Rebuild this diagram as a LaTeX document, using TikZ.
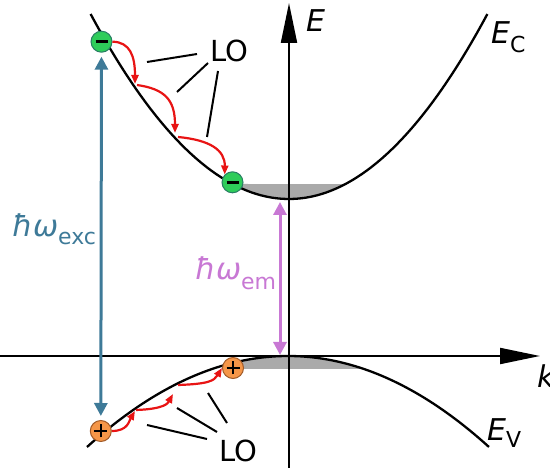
\documentclass[tikz,border=0pt]{standalone}
\usepackage{fontspec}
\setmainfont{DejaVu Sans}
\usetikzlibrary{arrows.meta}
\definecolor{egreen}{RGB}{46,204,90}
\definecolor{eborder}{RGB}{40,125,100}
\definecolor{horange}{RGB}{245,150,72}
\definecolor{hborder}{RGB}{160,90,40}
\definecolor{excblue}{RGB}{62,122,152}
\definecolor{emmag}{RGB}{200,120,212}
\definecolor{arrred}{RGB}{232,20,20}
\definecolor{bandgray}{RGB}{170,170,170}
\newcommand\FontBig{\fontsize{30}{36}\selectfont}
\newcommand\FontLO{\fontsize{29}{34}\selectfont}
\newcommand\FontSub{\fontsize{22}{26}\selectfont}
\begin{document}
\begin{tikzpicture}[x=1pt,y=-1pt,
  electron/.style={circle, fill=egreen, draw=eborder, line width=1pt, minimum size=21pt, inner sep=0pt,
    path picture={\draw[line width=3.4pt,black] ([xshift=-6pt]path picture bounding box.center) -- ([xshift=6pt]path picture bounding box.center);}},
  hole/.style={circle, fill=horange, draw=hborder, line width=1pt, minimum size=21pt, inner sep=0pt,
    path picture={\draw[line width=2.6pt,black] ([xshift=-6.5pt]path picture bounding box.center) -- ([xshift=6.5pt]path picture bounding box.center)
      ([yshift=-6.5pt]path picture bounding box.center) -- ([yshift=6.5pt]path picture bounding box.center);}},
  band/.style={line width=2.3pt, black},
  axis/.style={line width=2pt, black, -{Triangle[length=40pt,width=16pt]}},
  redarr/.style={draw=arrred, line width=2.2pt, -{Triangle[length=9pt,width=7pt]}},
  loline/.style={line width=2pt, black},
  lbl/.style={inner sep=0pt, anchor=base west},
]
\useasboundingbox (0,0) rectangle (550,468);

% filled band states
\fill[bandgray] (238,184) -- plot[domain=-0.257:0.2848, samples=30] ({289+198.4*\x},{199-185*\x*\x}) -- cycle;
\fill[bandgray] (238,369) -- plot[domain=-0.249:0.378, samples=30] ({288+201*\x},{356+91*\x*\x}) -- cycle;

% axes
\coordinate (yb) at (289,468);
\coordinate (yt) at (289,3);
\coordinate (xl) at (0,356);
\coordinate (xr) at (540,356);
\draw[axis] (yb) -- (yt);
\draw[axis] (xl) -- (xr);

% bands
\draw[band] plot[domain=-1:1, samples=80] ({289+198.4*\x},{199-185*\x*\x});
\draw[band] plot[domain=-1:1, samples=80] ({288+201*\x},{356+91*\x*\x});

% labels
\node[lbl] (E) at (306,32) {\FontBig\itshape E};
\node[lbl] (k) at (537,388) {\FontBig\itshape k};
\node[lbl] (EC) at (491,44) {\FontBig\itshape E\raisebox{-9pt}{\FontSub\upshape C}};
\node[lbl] (EV) at (487,441) {\FontBig\itshape E\raisebox{-7pt}{\FontSub\upshape V}};
\node[lbl, text=excblue] (exc) at (12,237) {\FontBig\itshape ħω\raisebox{-8pt}{\FontSub\upshape exc}};
\node[lbl, text=emmag] (em) at (195,280) {\FontBig\itshape ħω\raisebox{-10pt}{\FontSub\upshape em}};
\node[inner sep=0pt] (LOt) at (229,51) {\FontLO LO};
\node[inner sep=0pt] (LOb) at (238,451) {\FontLO LO};

% LO lines
\coordinate (t1a) at (147,62); \coordinate (t1b) at (197,54);
\coordinate (t2a) at (177,92); \coordinate (t2b) at (208,63);
\coordinate (t3a) at (207,137); \coordinate (t3b) at (218,71);
\draw[loline] (t1a) -- (t1b);
\draw[loline] (t2a) -- (t2b);
\draw[loline] (t3a) -- (t3b);
\coordinate (b1a) at (147,425); \coordinate (b1b) at (207,439);
\coordinate (b2a) at (177,408); \coordinate (b2b) at (217,432);
\coordinate (b3a) at (208,393); \coordinate (b3b) at (227,423);
\draw[loline] (b1a) -- (b1b);
\draw[loline] (b2a) -- (b2b);
\draw[loline] (b3a) -- (b3b);

% particles
\node[electron] (e1) at (101.5,41.7) {};
\node[electron] (e2) at (232.5,182.3) {};
\node[hole] (h1) at (100.8,431) {};
\node[hole] (h2) at (233,368) {};

% excitation and emission
\draw[line width=3pt, excblue, {Triangle[length=13pt,width=13pt]}-{Triangle[length=13pt,width=13pt]}, shorten <=4pt, shorten >=4pt] (e1) -- (h1);
\coordinate (cb) at (280,199);
\coordinate (vb) at (280,357);
\draw[line width=3pt, emmag, {Triangle[length=13pt,width=13pt]}-{Triangle[length=13pt,width=13pt]}, shorten <=3pt, shorten >=2pt] (cb) -- (vb);

% electron relaxation
\coordinate (c1) at (135,84);
\coordinate (c2) at (137,85);
\coordinate (c3) at (175,133);
\coordinate (c4) at (178,137);
\draw[redarr] (e1.east) .. controls (130,42) and (135,56) .. (c1);
\draw[redarr] (c2) .. controls (165,89) and (175,100) .. (c3);
\draw[redarr] (c4) .. controls (210,140) and (225,150) .. (e2.north west);

% hole relaxation
\coordinate (v1) at (135,411);
\coordinate (v2) at (136,410);
\coordinate (v3) at (173,394);
\coordinate (v4) at (178,385);
\draw[redarr] (h1.east) .. controls (128,431) and (129,421) .. (v1);
\draw[redarr] (v2) .. controls (165,409) and (168,403) .. (v3);
\draw[redarr] (v4) .. controls (208,384) and (214,381) .. (h2.west);
\end{tikzpicture}
\end{document}
